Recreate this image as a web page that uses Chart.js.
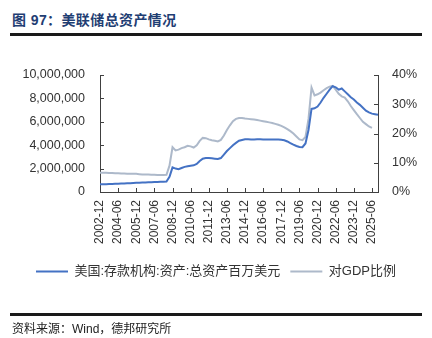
<!DOCTYPE html>
<html><head><meta charset="utf-8">
<script src="https://cdn.jsdelivr.net/npm/chart.js@4.4.1/dist/chart.umd.min.js"></script>
<style>
html,body{margin:0;padding:0;background:#fff;width:432px;height:338px;overflow:hidden;}
#wrap{position:relative;width:432px;height:338px;}
#title{position:absolute;left:12px;top:13px;font:bold 14px/1 "Liberation Sans","Noto Sans CJK SC",sans-serif;color:#1F3E73;white-space:nowrap;letter-spacing:0.4px;}
.rule{position:absolute;left:10px;width:412px;height:2.5px;background:#1a1a1a;}
#src{position:absolute;left:12px;top:323px;font:12px/1 "Liberation Sans","Noto Sans CJK SC",sans-serif;color:#222;white-space:nowrap;}
canvas{position:absolute;left:0;top:0;}
</style></head>
<body><div id="wrap">
<div id="title">图 97：美联储总资产情况</div>
<div class="rule" style="top:33px"></div>
<canvas id="c" width="432" height="338"></canvas>
<div class="rule" style="top:313px"></div>
<div id="src">资料来源：Wind，德邦研究所</div>
</div>
<script>
const categories = ["2002-12",
"2003-03","2003-06","2003-09","2003-12","2004-03","2004-06","2004-09","2004-12",
"2005-03","2005-06","2005-09","2005-12","2006-03","2006-06","2006-09","2006-12",
"2007-03","2007-06","2007-09","2007-12","2008-03","2008-06","2008-09","2008-12",
"2009-03","2009-06","2009-09","2009-12","2010-03","2010-06","2010-09","2010-12",
"2011-03","2011-06","2011-09","2011-12","2012-03","2012-06","2012-09","2012-12",
"2013-03","2013-06","2013-09","2013-12","2014-03","2014-06","2014-09","2014-12",
"2015-03","2015-06","2015-09","2015-12","2016-03","2016-06","2016-09","2016-12",
"2017-03","2017-06","2017-09","2017-12","2018-03","2018-06","2018-09","2018-12",
"2019-03","2019-06","2019-09","2019-12","2020-03","2020-06","2020-09","2020-12",
"2021-03","2021-06","2021-09","2021-12","2022-03","2022-06","2022-09","2022-12",
"2023-03","2023-06","2023-09","2023-12","2024-03","2024-06","2024-09","2024-12",
"2025-03","2025-06","2025-09","2025-12"];

const tickLabels = ["2002-12","2004-06","2005-12","2007-06","2008-12","2010-06","2011-12","2013-06",
"2014-12","2016-06","2017-12","2019-06","2020-12","2022-06","2023-12","2025-06"];

const totalAssets = [660000,
665000,670000,680000,690000,700000,710000,720000,730000,
740000,755000,770000,790000,800000,810000,815000,825000,
835000,845000,860000,870000,880000,900000,1300000,2100000,
2000000,1950000,2050000,2150000,2200000,2250000,2280000,2400000,
2650000,2850000,2900000,2900000,2880000,2850000,2820000,2900000,
3200000,3500000,3750000,4000000,4200000,4380000,4450000,4500000,
4500000,4490000,4490000,4500000,4500000,4490000,4480000,4490000,
4490000,4490000,4480000,4460000,4420000,4320000,4180000,4050000,
3930000,3850000,3830000,4150000,5300000,7100000,7150000,7300000,
7650000,8050000,8400000,8750000,9050000,8950000,8750000,8850000,
8600000,8350000,8100000,7900000,7650000,7450000,7200000,6950000,
6800000,6700000,6650000,6600000];

const gdpRatio = [6.6,
6.6,6.6,6.5,6.5,6.4,6.4,6.3,6.3,
6.2,6.2,6.2,6.2,6.1,6.0,6.0,6.0,
5.9,5.9,5.8,5.8,5.8,5.9,9.0,15.3,
14.2,14.5,15.0,15.3,15.8,15.6,15.2,16.0,
17.5,18.5,18.4,18.0,17.7,17.5,17.3,17.8,
19.3,21.2,22.8,24.2,25.0,25.3,25.3,25.1,
25.0,24.9,24.8,24.6,24.4,24.2,24.0,23.8,
23.6,23.3,23.0,22.6,22.1,21.5,20.8,20.0,
19.0,18.0,17.7,18.8,25.0,35.7,33.0,33.4,
34.0,34.8,35.5,36.0,36.3,35.0,33.6,32.7,
32.3,31.0,29.4,28.0,26.6,25.3,24.0,23.2,
22.4,21.9,null,null];

const leftTicks = [0,2000000,4000000,6000000,8000000,10000000];
const rightTicks = [0,10,20,30,40];

const FONT = '"Liberation Sans","Noto Sans CJK SC",sans-serif';
const AXIS = '#404040';

const inTicks = {
  id:'inTicks',
  afterDraw(chart){
    const {ctx, chartArea:a, scales} = chart;
    ctx.save();
    ctx.strokeStyle = AXIS; ctx.lineWidth = 1;
    ctx.beginPath();
    scales.y.ticks.forEach((t,i)=>{const y=Math.round(scales.y.getPixelForTick(i))+0.5;ctx.moveTo(a.left,y);ctx.lineTo(a.left+4,y);});
    scales.y1.ticks.forEach((t,i)=>{const y=Math.round(scales.y1.getPixelForTick(i))+0.5;ctx.moveTo(a.right,y);ctx.lineTo(a.right-4,y);});
    scales.x.ticks.forEach((t,i)=>{if(t.label==null||t.label==='')return;const x=Math.round(scales.x.getPixelForTick(i))+0.5;ctx.moveTo(x,a.bottom);ctx.lineTo(x,a.bottom-4);});
    ctx.stroke();
    ctx.restore();
  }
};

new Chart(document.getElementById('c'),{
  type:'line',
  data:{
    labels:categories,
    datasets:[
      {label:'美国:存款机构:资产:总资产百万美元',data:totalAssets,yAxisID:'y',borderColor:'#4472C4',backgroundColor:'#4472C4',borderWidth:2,pointRadius:0,tension:0},
      {label:'对GDP比例',data:gdpRatio,yAxisID:'y1',borderColor:'#ADB9CA',backgroundColor:'#ADB9CA',borderWidth:2,pointRadius:0,tension:0}
    ]
  },
  options:{
    responsive:false,animation:false,
    layout:{padding:{top:75,left:0,right:0,bottom:50}},
    plugins:{
      legend:{position:'bottom',labels:{boxWidth:32,boxHeight:2,padding:10,color:'#333',font:{size:13,family:FONT},
        generateLabels(chart){
          return Chart.defaults.plugins.legend.labels.generateLabels(chart).map(l=>Object.assign(l,{lineWidth:0}));
        }}},
      tooltip:{enabled:false}
    },
    scales:{
      x:{type:'category',grid:{display:false,drawTicks:false},border:{color:AXIS,width:1},
        ticks:{autoSkip:false,maxRotation:90,minRotation:90,padding:8,color:'#333',font:{size:12,family:FONT},
          callback(v){const l=this.getLabelForValue(v);return tickLabels.includes(l)?l:null;}},
        afterFit(s){s.height=63;}},
      y:{position:'left',min:0,max:10000000,grid:{display:false,drawTicks:false},border:{color:AXIS,width:1},
        afterBuildTicks(s){s.ticks=leftTicks.map(v=>({value:v}));},
        ticks:{padding:15,color:'#333',font:{size:12.5,family:FONT},callback:v=>v.toLocaleString('en-US')},
        afterFit(s){s.width=100;}},
      y1:{position:'right',min:0,max:40,grid:{display:false,drawTicks:false},border:{color:AXIS,width:1},
        afterBuildTicks(s){s.ticks=rightTicks.map(v=>({value:v}));},
        ticks:{padding:14,color:'#333',font:{size:12.5,family:FONT},callback:v=>v+'%'},
        afterFit(s){s.width=54;}}
    }
  },
  plugins:[inTicks]
});
</script>
</body></html>
